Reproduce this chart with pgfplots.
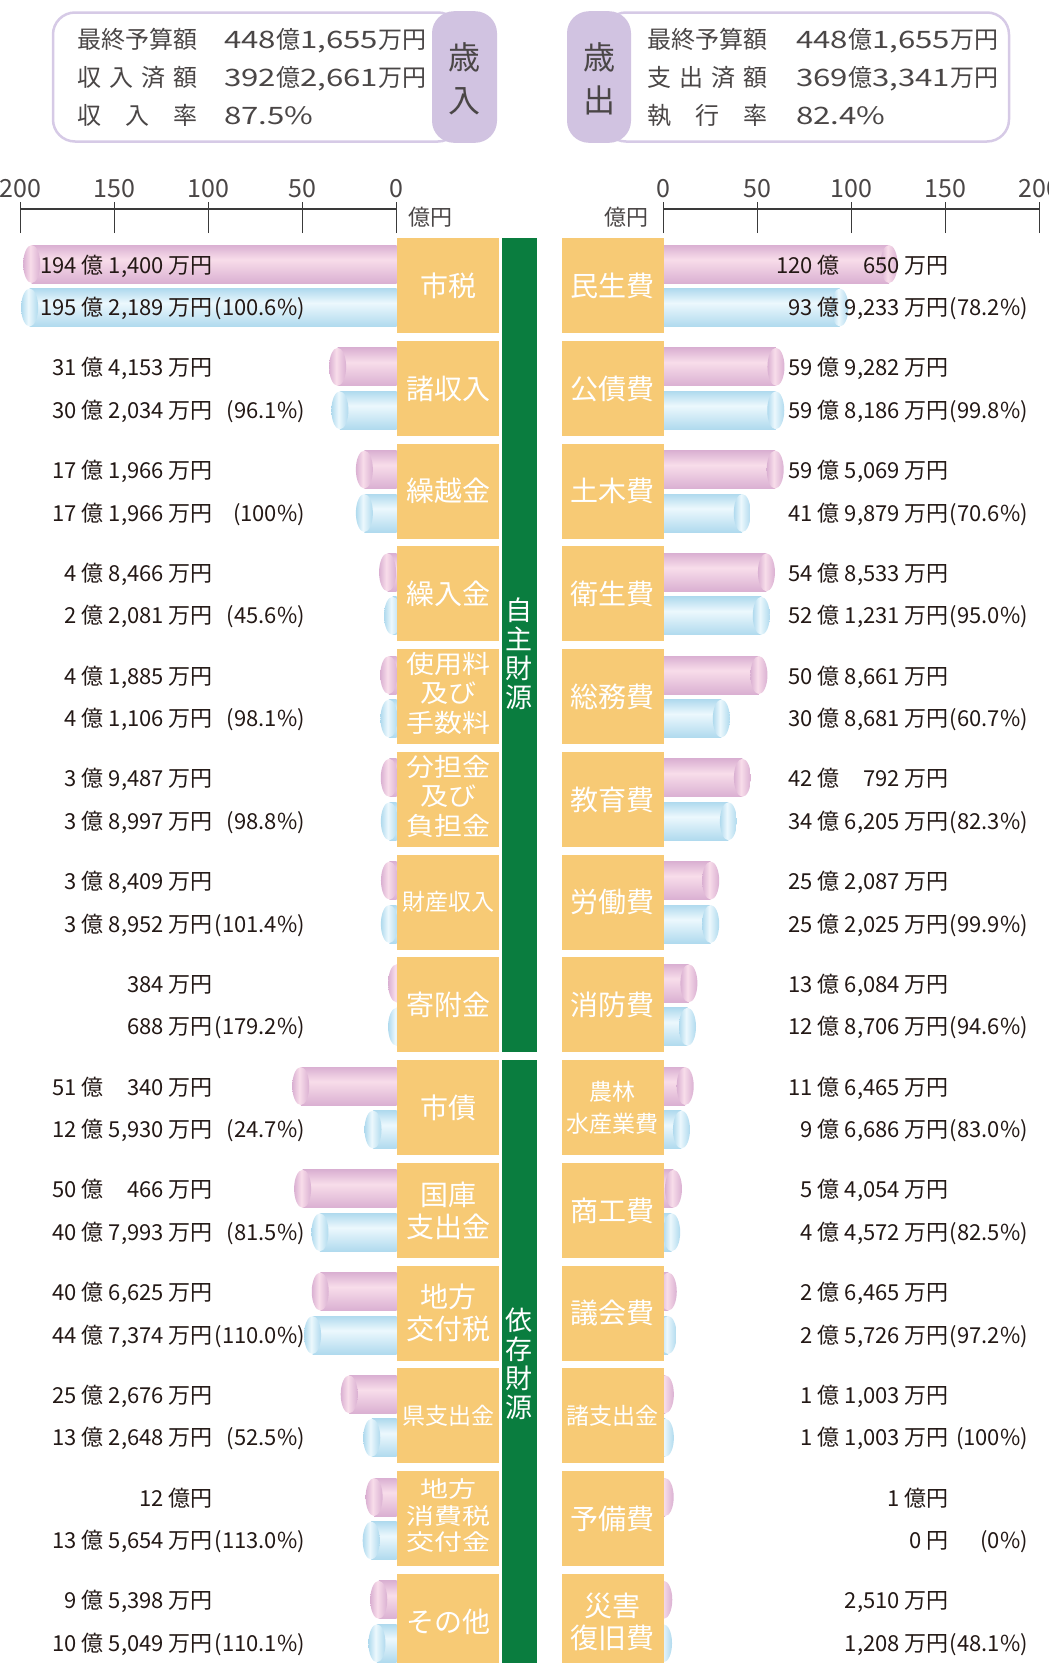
\documentclass[border=0pt]{standalone}
\usepackage{graphicx}
\usepackage{pgfplots}
\pgfplotsset{compat=1.18}
\usepackage{pgfplotstable}
\usepackage{fontspec}
\setmainfont{Noto Sans CJK JP}
\newfontfamily\wideF[FakeStretch=1.3]{Noto Sans CJK JP}

\definecolor{pinkE}{HTML}{DAB0D2}
\definecolor{pinkM}{HTML}{F8DDEA}
\definecolor{blueE}{HTML}{B0DAEE}
\definecolor{blueM}{HTML}{ECF8FD}
\definecolor{boxC}{HTML}{F7CA75}
\definecolor{greenC}{HTML}{0A7D3F}
\definecolor{tabC}{HTML}{D1C3E1}
\definecolor{lineC}{HTML}{D6CAE6}
\definecolor{txtC}{HTML}{231815}
\definecolor{hdC}{HTML}{4A4646}
\definecolor{axC}{HTML}{3A3A3A}

\pgfdeclareverticalshading{barPink}{100bp}{color(0bp)=(pinkE); color(25bp)=(pinkE); color(56bp)=(pinkM); color(75bp)=(pinkE); color(100bp)=(pinkE)}
\pgfdeclareverticalshading{barBlue}{100bp}{color(0bp)=(blueE); color(25bp)=(blueE); color(56bp)=(blueM); color(75bp)=(blueE); color(100bp)=(blueE)}
\pgfdeclarehorizontalshading{capPink}{100bp}{color(0bp)=(pinkE); color(25bp)=(pinkE); color(46bp)=(pinkM); color(75bp)=(pinkE); color(100bp)=(pinkE)}
\pgfdeclarehorizontalshading{capBlue}{100bp}{color(0bp)=(blueE); color(25bp)=(blueE); color(46bp)=(blueM); color(75bp)=(blueE); color(100bp)=(blueE)}

\pgfdeclareplotmark{capP}{%
  \pgfpathellipse{\pgfpointorigin}{\pgfqpoint{8.5pt}{0pt}}{\pgfqpoint{0pt}{19pt}}%
  \pgfshadepath{capPink}{0}%
  \pgfusepath{discard}}
\pgfdeclareplotmark{capB}{%
  \pgfpathellipse{\pgfpointorigin}{\pgfqpoint{8.5pt}{0pt}}{\pgfqpoint{0pt}{19pt}}%
  \pgfshadepath{capBlue}{0}%
  \pgfusepath{discard}}

% revenue (left): budget, received (億円)
\pgfplotstableread{
i bud act
0 194.1400 195.2189
1 31.4153 30.2034
2 17.1966 17.1966
3 4.8466 2.2081
4 4.1885 4.1106
5 3.9487 3.8997
6 3.8409 3.8952
7 0.0384 0.0688
8 51.0340 12.5930
9 50.0466 40.7993
10 40.6625 44.7374
11 25.2676 13.2648
12 12.0000 13.5654
13 9.5398 10.5049
}\revtab
% expenditure (right): budget, spent (億円)
\pgfplotstableread{
i bud act
0 120.0650 93.9233
1 59.9282 59.8186
2 59.5069 41.9879
3 54.8533 52.1231
4 50.8661 30.8681
5 42.0792 34.6205
6 25.2087 25.2025
7 13.6084 12.8706
8 11.6465 9.6686
9 5.4054 4.4572
10 2.6465 2.5726
11 1.1003 1.1003
12 1.0000 0.0000
13 0.2510 0.1208
}\exptab

\pgfplotsset{
  barax/.style={scale only axis, width=376pt, height=1438.5pt,
    xmin=0, xmax=200, ymin=-0.5, ymax=13.5, y dir=reverse, hide axis, clip=false},
  pbar/.style={xbar, bar width=38pt, bar shift=0pt, draw=none, mark=none, shade, shading=barPink},
  bbar/.style={xbar, bar width=38pt, bar shift=0pt, draw=none, mark=none, shade, shading=barBlue},
  scaleax/.style={scale only axis, width=376pt, height=31pt,
    xmin=0, xmax=200, ymin=0, ymax=31,
    axis line style={draw=none},
    xtick={0,50,100,150,200}, xticklabels={0,50,100,150,200},
    xticklabel pos=upper,
    ytick={24}, yticklabels={},
    major tick length=0pt,
    xmajorgrids, ymajorgrids,
    major grid style={draw=axC, line width=1.3pt},
    xticklabel style={font=\fontsize{25}{28}\selectfont, text=hdC, inner sep=0pt, yshift=4pt}},
}

\tikzset{
  lab/.style={font=\fontsize{22}{26}\selectfont, text=txtC, inner sep=0pt, text height=17pt, text depth=1pt},
  pct/.style={lab},
  cat/.style={text=white, inner sep=0pt, align=center, font=\fontsize{28}{32}\selectfont},
  cats/.style={text=white, inner sep=0pt, align=center, font=\fontsize{23}{32}\selectfont},
  hd/.style={text=hdC, inner sep=0pt, font=\fontsize{24}{28}\selectfont},
}

\newcommand\Lrow[4]{%
  \node[lab,anchor=east] at (213,{265+102.75*#1}) {#2};
  \node[lab,anchor=east] at (213,{307.5+102.75*#1}) {#3};
  \node[pct,anchor=east] at (305,{307.5+102.75*#1}) {#4};}
\newcommand\Rrow[4]{%
  \node[lab,anchor=east] at (949,{265+102.75*#1}) {#2};
  \node[lab,anchor=east] at (949,{307.5+102.75*#1}) {#3};
  \node[pct,anchor=east] at (1028,{307.5+102.75*#1}) {#4};}
\newcommand\Lcat[3][cat]{\node[#1] at (448,{285.75+102.75*#2}) {#3};}
\newcommand\Rcat[3][cat]{\node[#1] at (612.5,{285.75+102.75*#2}) {#3};}

\begin{document}
\begin{tikzpicture}
\useasboundingbox (0pt,0pt) rectangle (1049pt,-1663pt);
\clip (0pt,0pt) rectangle (1049pt,-1663pt);

% scale axes
\begin{axis}[scaleax, at={(396.7pt,-202pt)}, anchor=north east, x dir=reverse]
\end{axis}
\begin{axis}[scaleax, at={(663.3pt,-202pt)}, anchor=north west]
\end{axis}

% revenue bars
\begin{axis}[barax, at={(396.7pt,-234.375pt)}, anchor=north east, x dir=reverse]
\pgfplotsinvokeforeach{0,...,13}{%
  \addplot[pbar, restrict expr to domain={\coordindex}{#1:#1}] table[x=bud, y expr=\thisrow{i}-0.2115]{\revtab};
  \addplot[bbar, restrict expr to domain={\coordindex}{#1:#1}] table[x=act, y expr=\thisrow{i}+0.2115]{\revtab};
}
\addplot[only marks, mark=capP] table[x=bud, y expr=\thisrow{i}-0.2115]{\revtab};
\addplot[only marks, mark=capB] table[x=act, y expr=\thisrow{i}+0.2115]{\revtab};
\end{axis}

% expenditure bars
\begin{axis}[barax, at={(663.3pt,-234.375pt)}, anchor=north west]
\pgfplotsinvokeforeach{0,...,13}{%
  \addplot[pbar, restrict expr to domain={\coordindex}{#1:#1}] table[x=bud, y expr=\thisrow{i}-0.2115]{\exptab};
}
\pgfplotsinvokeforeach{0,...,11,13}{%
  \addplot[bbar, restrict expr to domain={\coordindex}{#1:#1}] table[x=act, y expr=\thisrow{i}+0.2115]{\exptab};
}
\addplot[only marks, mark=capP] table[x=bud, y expr=\thisrow{i}-0.2115]{\exptab};
\addplot[only marks, mark=capB, restrict x to domain=0.001:1000] table[x=act, y expr=\thisrow{i}+0.2115]{\exptab};
\end{axis}

\begin{scope}[x=1pt,y=-1pt]
% category boxes
\foreach \i in {0,...,13}{
  \fill[boxC] (396.7,{238+102.75*\i}) rectangle (499.3,{333+102.75*\i});
  \fill[boxC] (561.5,{238+102.75*\i}) rectangle (663.6,{333+102.75*\i});
}
\fill[greenC] (501.7,238) rectangle (536.5,1052.3);
\fill[greenC] (501.7,1060) rectangle (536.5,1700);
\node[text=white, inner sep=0pt, align=center, font=\fontsize{27}{29}\selectfont] at (519,654) {自\\主\\財\\源};
\node[text=white, inner sep=0pt, align=center, font=\fontsize{27}{29}\selectfont] at (519,1364) {依\\存\\財\\源};

% category names
\Lcat{0}{市税}
\Lcat{1}{諸収入}
\Lcat{2}{繰越金}
\Lcat{3}{繰入金}
\Lcat{4}{\scalebox{1}[0.9]{\begin{tabular}{@{}c@{}}使用料\\及び\\手数料\end{tabular}}}
\Lcat{5}{\scalebox{1}[0.9]{\begin{tabular}{@{}c@{}}分担金\\及び\\負担金\end{tabular}}}
\Lcat[cats]{6}{財産収入}
\Lcat{7}{寄附金}
\Lcat{8}{市債}
\Lcat{9}{国庫\\支出金}
\Lcat{10}{地方\\交付税}
\Lcat[cats]{11}{県支出金}
\Lcat{12}{\scalebox{1}[0.8]{\begin{tabular}{@{}c@{}}地方\\消費税\\交付金\end{tabular}}}
\Lcat{13}{その他}

\Rcat{0}{民生費}
\Rcat{1}{公債費}
\Rcat{2}{土木費}
\Rcat{3}{衛生費}
\Rcat{4}{総務費}
\Rcat{5}{教育費}
\Rcat{6}{労働費}
\Rcat{7}{消防費}
\Rcat[cats]{8}{農林\\水産業費}
\Rcat{9}{商工費}
\Rcat{10}{議会費}
\Rcat[cats]{11}{諸支出金}
\Rcat{12}{予備費}
\Rcat{13}{災害\\復旧費}

% value labels
\Lrow{0}{194 億 1,400 万円}{195 億 2,189 万円}{(100.6\%)}
\Lrow{1}{31 億 4,153 万円}{30 億 2,034 万円}{(96.1\%)}
\Lrow{2}{17 億 1,966 万円}{17 億 1,966 万円}{(100\%)}
\Lrow{3}{4 億 8,466 万円}{2 億 2,081 万円}{(45.6\%)}
\Lrow{4}{4 億 1,885 万円}{4 億 1,106 万円}{(98.1\%)}
\Lrow{5}{3 億 9,487 万円}{3 億 8,997 万円}{(98.8\%)}
\Lrow{6}{3 億 8,409 万円}{3 億 8,952 万円}{(101.4\%)}
\Lrow{7}{384 万円}{688 万円}{(179.2\%)}
\Lrow{8}{51 億 \phantom{0,}340 万円}{12 億 5,930 万円}{(24.7\%)}
\Lrow{9}{50 億 \phantom{0,}466 万円}{40 億 7,993 万円}{(81.5\%)}
\Lrow{10}{40 億 6,625 万円}{44 億 7,374 万円}{(110.0\%)}
\Lrow{11}{25 億 2,676 万円}{13 億 2,648 万円}{(52.5\%)}
\Lrow{12}{12 億円}{13 億 5,654 万円}{(113.0\%)}
\Lrow{13}{9 億 5,398 万円}{10 億 5,049 万円}{(110.1\%)}

\Rrow{0}{120 億 \phantom{0,}650 万円}{93 億 9,233 万円}{(78.2\%)}
\Rrow{1}{59 億 9,282 万円}{59 億 8,186 万円}{(99.8\%)}
\Rrow{2}{59 億 5,069 万円}{41 億 9,879 万円}{(70.6\%)}
\Rrow{3}{54 億 8,533 万円}{52 億 1,231 万円}{(95.0\%)}
\Rrow{4}{50 億 8,661 万円}{30 億 8,681 万円}{(60.7\%)}
\Rrow{5}{42 億 \phantom{0,}792 万円}{34 億 6,205 万円}{(82.3\%)}
\Rrow{6}{25 億 2,087 万円}{25 億 2,025 万円}{(99.9\%)}
\Rrow{7}{13 億 6,084 万円}{12 億 8,706 万円}{(94.6\%)}
\Rrow{8}{11 億 6,465 万円}{9 億 6,686 万円}{(83.0\%)}
\Rrow{9}{5 億 4,054 万円}{4 億 4,572 万円}{(82.5\%)}
\Rrow{10}{2 億 6,465 万円}{2 億 5,726 万円}{(97.2\%)}
\Rrow{11}{1 億 1,003 万円}{1 億 1,003 万円}{(100\%)}
\Rrow{12}{1 億円}{0 円}{(0\%)}
\Rrow{13}{2,510 万円}{1,208 万円}{(48.1\%)}

% unit labels
\node[hd, font=\fontsize{22}{26}\selectfont] at (430,217) {億円};
\node[hd, font=\fontsize{22}{26}\selectfont] at (626.5,217) {億円};

% header boxes
\draw[lineC, line width=2.5pt, rounded corners=22pt] (53,12.5) rectangle (460,141.5);
\fill[tabC, rounded corners=22pt] (432,11.2) rectangle (497,142.8);
\node[hd, font=\fontsize{32}{34}\selectfont] at (464.5,57) {歳};
\node[hd, font=\fontsize{32}{34}\selectfont] at (464.5,101) {入};

\draw[lineC, line width=2.5pt, rounded corners=22pt] (604,12.5) rectangle (1009,141.5);
\fill[tabC, rounded corners=22pt] (567,11.2) rectangle (631,142.8);
\node[hd, font=\fontsize{32}{34}\selectfont] at (599,57) {歳};
\node[hd, font=\fontsize{32}{34}\selectfont] at (599,100) {出};

\node[hd, anchor=base west] at (77,48) {最終予算額};
\node[hd, anchor=base west] at (77,86) {\hbox to 120pt{収\hfill 入\hfill 済\hfill 額}};
\node[hd, anchor=base west] at (77,124) {\hbox to 120pt{収\hfill 入\hfill 率}};
\node[hd, anchor=base west] at (224,48) {{\wideF 448}億{\wideF 1,655}万円};
\node[hd, anchor=base west] at (224,86) {{\wideF 392}億{\wideF 2,661}万円};
\node[hd, anchor=base west] at (224,124) {{\wideF 87.5\%}};

\node[hd, anchor=base west] at (647,48) {最終予算額};
\node[hd, anchor=base west] at (647,86) {\hbox to 120pt{支\hfill 出\hfill 済\hfill 額}};
\node[hd, anchor=base west] at (647,124) {\hbox to 120pt{執\hfill 行\hfill 率}};
\node[hd, anchor=base west] at (796,48) {{\wideF 448}億{\wideF 1,655}万円};
\node[hd, anchor=base west] at (796,86) {{\wideF 369}億{\wideF 3,341}万円};
\node[hd, anchor=base west] at (796,124) {{\wideF 82.4\%}};
\end{scope}
\end{tikzpicture}
\end{document}
